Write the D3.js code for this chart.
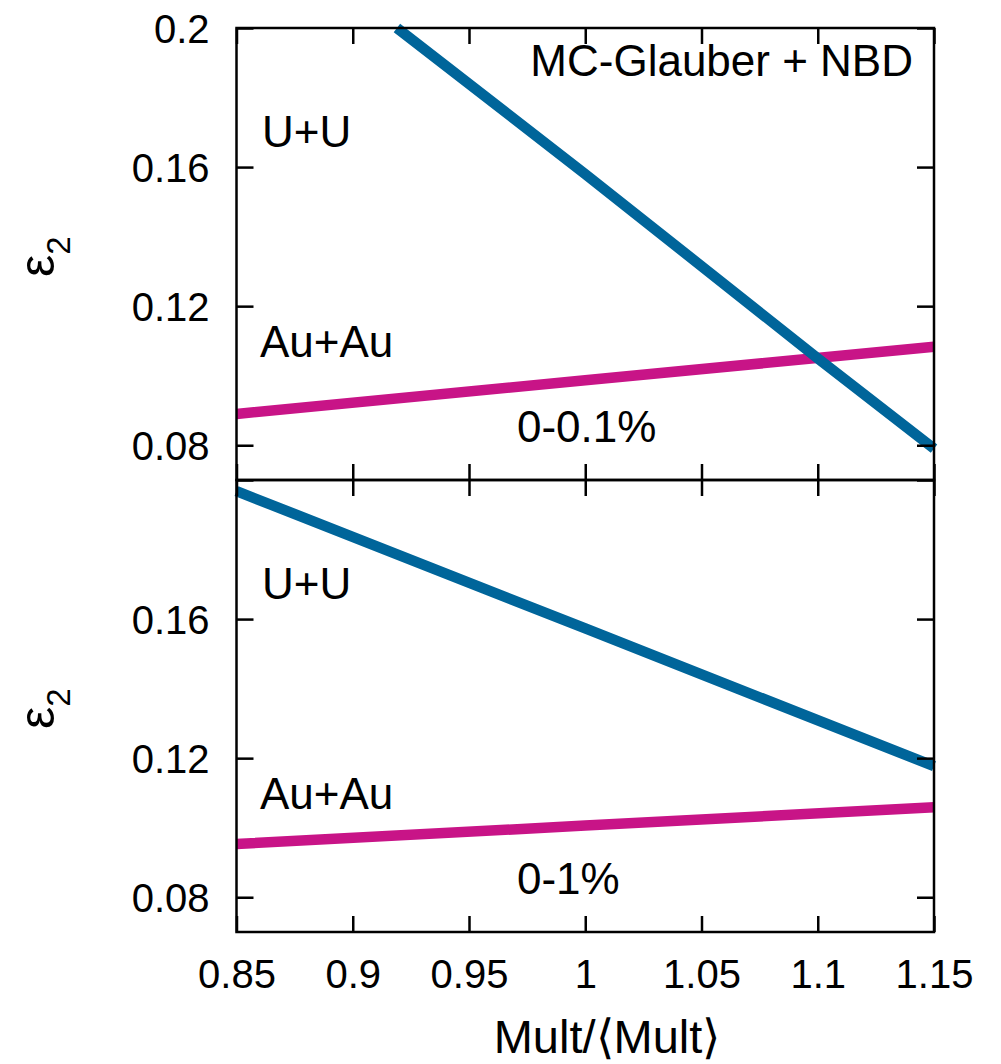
<!DOCTYPE html>
<html>
<head>
<meta charset="utf-8">
<script src="https://cdn.jsdelivr.net/npm/d3@7"></script>
<style>
  body { margin: 0; background: #fff; }
  text { font-family: "Liberation Sans", Arial, Helvetica, sans-serif; fill: #000; }
</style>
</head>
<body>
<div id="chart"></div>
<script>
// shared axis values
var xTicks = [0.85, 0.9, 0.95, 1, 1.05, 1.1, 1.15];
var xTickLabels = ["0.85", "0.9", "0.95", "1", "1.05", "1.1", "1.15"];
var yTicks = [0.08, 0.12, 0.16, 0.2];
var yLabelsTop = ["0.08", "0.12", "0.16", "0.2"];
var yLabelsBottom = ["0.08", "0.12", "0.16", ""];

// top panel (0-0.1%)
var uuTop = [[0.919, 0.2], [1.0, 0.158], [1.1, 0.105], [1.15, 0.079]];
var auauTop = [[0.85, 0.089], [1.0, 0.0987], [1.15, 0.1083]];
// bottom panel (0-1%)
var uuBottom = [[0.85, 0.1968], [1.0, 0.1573], [1.15, 0.1177]];
var auauBottom = [[0.85, 0.0953], [1.0, 0.1006], [1.15, 0.1059]];

var panelNames = ["0-0.1%", "0-1%"];

var W = 1001, H = 1064;
var plotLeft = 236.5, plotRight = 934, plotTop = 28, ph = 452;
var blue = "#00659a", magenta = "#c81487";

var svg = d3.select('#chart').append('svg')
            .attr('width', W).attr('height', H);

var x = d3.scaleLinear().domain([0.85, 1.15]).range([plotLeft, plotRight]);

var line = function(y) {
	return d3.line().x(function(d) { return x(d[0]); }).y(function(d) { return y(d[1]); });
};

var drawPanel = function(i, uu, auau, yLabels) {
	var y0 = plotTop + i * ph;
	var y = d3.scaleLinear().domain([0.07, 0.2]).range([y0 + ph, y0]);
	var g = svg.append('g');

	g.append('path').datum(auau)
	  .attr('d', line(y))
	  .attr('fill', 'none')
	  .attr('stroke', magenta)
	  .attr('stroke-width', 10.5);
	g.append('path').datum(uu)
	  .attr('d', line(y))
	  .attr('fill', 'none')
	  .attr('stroke', blue)
	  .attr('stroke-width', 10.5);

	// inner ticks on all four sides
	g.append('g').attr('class', 'xaxis')
	  .attr('transform', 'translate(0,' + (y0 + ph) + ')')
	  .call(d3.axisBottom(x).tickValues(xTicks).tickSize(-16).tickSizeOuter(0)
	          .tickFormat(function(d, k) { return i == 1 ? xTickLabels[k] : ""; }));
	g.append('g').attr('transform', 'translate(0,' + y0 + ')')
	  .call(d3.axisTop(x).tickValues(xTicks).tickSize(-16).tickSizeOuter(0).tickFormat(""));
	g.append('g').attr('class', 'yaxis')
	  .attr('transform', 'translate(' + plotLeft + ',0)')
	  .call(d3.axisLeft(y).tickValues(yTicks).tickSize(-17).tickSizeOuter(0)
	          .tickFormat(function(d, k) { return yLabels[k]; }));
	g.append('g').attr('transform', 'translate(' + plotRight + ',0)')
	  .call(d3.axisRight(y).tickValues(yTicks).tickSize(-17).tickSizeOuter(0).tickFormat(""));

	g.append('rect')
	  .attr('x', plotLeft).attr('y', y0)
	  .attr('width', plotRight - plotLeft).attr('height', ph)
	  .attr('fill', 'none').attr('stroke', '#000').attr('stroke-width', 2.5);

	g.append('text').attr('x', 262).attr('y', y0 + 119)
	  .style('font-size', '44px').text('U+U');
	g.append('text').attr('x', 260).attr('y', y0 + 329)
	  .style('font-size', '44px').text('Au+Au');
	g.append('text').attr('x', 517).attr('y', y0 + 414)
	  .style('font-size', '44px').text(panelNames[i]);

	var lab = g.append('text')
	  .attr('transform', 'translate(54,' + (y0 + 249) + ') rotate(-90)');
	lab.append('tspan').style('font-size', '50px').text('ε');
	lab.append('tspan').attr('dy', 16).style('font-size', '33px').text('2');

	return y;
};

drawPanel(0, uuTop, auauTop, yLabelsTop);
drawPanel(1, uuBottom, auauBottom, yLabelsBottom);

svg.selectAll('.domain').remove();
svg.selectAll('.tick line').attr('stroke', '#000').attr('stroke-width', 2.5);
svg.selectAll('.tick text').style('font-size', '40px').attr('fill', '#000');
svg.selectAll('.yaxis .tick text').attr('x', -27).attr('dy', '0.35em');
svg.selectAll('.xaxis .tick text').attr('y', 28).attr('dy', '0.71em');

svg.append('text').attr('x', 913).attr('y', 76)
   .attr('text-anchor', 'end')
   .style('font-size', '44px').text('MC-Glauber + NBD');

svg.append('text').attr('x', 607).attr('y', 1053)
   .attr('text-anchor', 'middle')
   .style('font-size', '47px').text('Mult/⟨Mult⟩');
</script>
</body>
</html>
